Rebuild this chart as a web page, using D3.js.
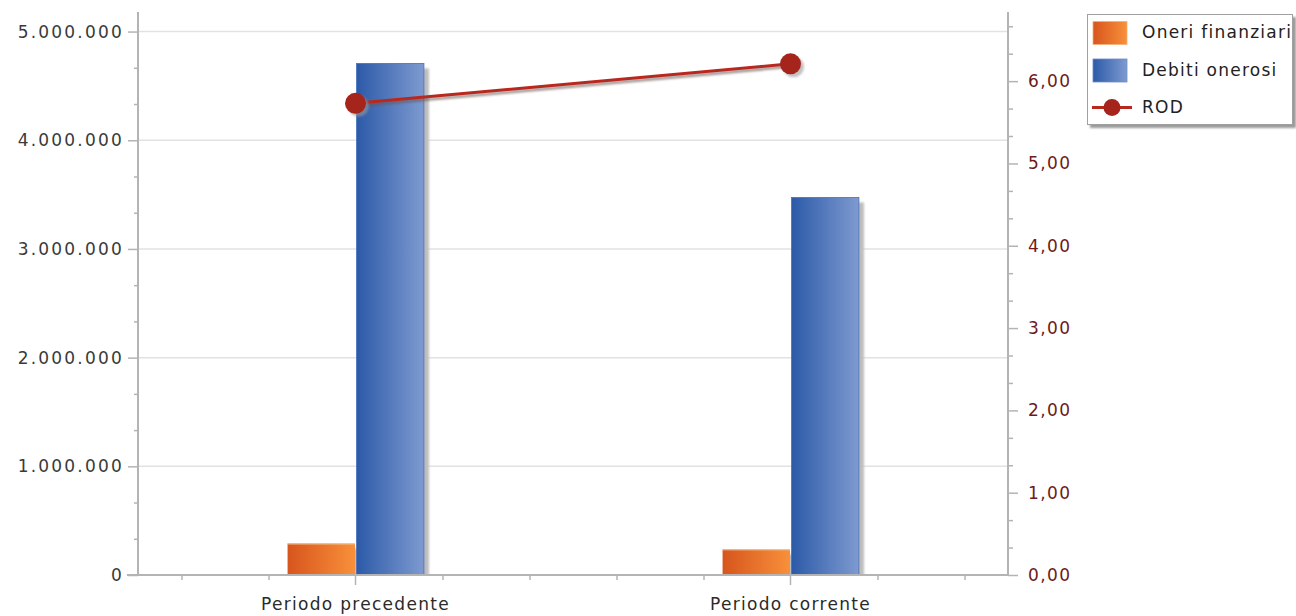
<!DOCTYPE html>
<html>
<head>
<meta charset="utf-8">
<script src="https://cdn.jsdelivr.net/npm/d3@7"></script>
<style>
  body { margin: 0; background: #fff; }
  svg { display: block; }
  text { font-family: "DejaVu Sans", Verdana, sans-serif; }
</style>
</head>
<body>
<svg id="chart" width="1296" height="616"></svg>
<script>
// Chart data
const categories = ["Periodo precedente", "Periodo corrente"];
const oneriFinanziari = [290000, 236000];
const debitiOnerosi = [4707000, 3474000];
const rod = [5.73, 6.21];
const seriesNames = ["Oneri finanziari", "Debiti onerosi", "ROD"];
const leftTicks = [0, 1000000, 2000000, 3000000, 4000000, 5000000];
const rightTicks = [0, 1, 2, 3, 4, 5, 6];
const leftMax = 5180000;
const rightMax = 6.84;

const plot = { left: 138, right: 1008, top: 12, bottom: 575 };
const svg = d3.select("#chart");

const it = d3.formatLocale({ decimal: ",", thousands: ".", grouping: [3], currency: ["", " €"] });
const fmtLeft = it.format(",.0f");
const fmtRight = it.format(",.2f");

const x = d3.scaleBand().domain(categories).range([plot.left, plot.right]);
const yL = d3.scaleLinear().domain([0, leftMax]).range([plot.bottom, plot.top]);
const yR = d3.scaleLinear().domain([0, rightMax]).range([plot.bottom, plot.top]);
const barW = x.bandwidth() * 0.155;
const cx = c => x(c) + x.bandwidth() / 2;

// Definitions: gradients and shadow filters
const defs = svg.append("defs");
function hGrad(id, c0, c1) {
  const g = defs.append("linearGradient").attr("id", id).attr("x1", "0").attr("x2", "1").attr("y1", "0").attr("y2", "0");
  g.append("stop").attr("offset", "0").attr("stop-color", c0);
  g.append("stop").attr("offset", "1").attr("stop-color", c1);
}
hGrad("gOrange", "#d7551d", "#f8903a");
hGrad("gBlue", "#2c5aa8", "#7e9ad0");
defs.append("filter").attr("id", "soft").attr("x", "-20%").attr("y", "-20%").attr("width", "140%").attr("height", "140%")
  .append("feGaussianBlur").attr("stdDeviation", 1);
defs.append("clipPath").attr("id", "plotClip").append("rect")
  .attr("x", plot.left).attr("y", 0).attr("width", plot.right - plot.left).attr("height", plot.bottom);

// Horizontal gridlines at the left-axis major ticks
svg.append("g").selectAll("line").data(leftTicks.filter(d => d > 0)).join("line")
  .attr("x1", plot.left).attr("x2", plot.right)
  .attr("y1", d => yL(d)).attr("y2", d => yL(d))
  .attr("stroke", "#e2e2e2").attr("stroke-width", 1.5);

// Bars
const bars = svg.append("g").attr("clip-path", "url(#plotClip)");
const barData = categories.map((c, i) => ({ c, oneri: oneriFinanziari[i], debiti: debitiOnerosi[i] }));

// bar shadows
bars.selectAll("rect.shadowO").data(barData).join("rect").attr("class", "shadowO")
  .attr("x", d => cx(d.c) - barW - 0.5 + 5).attr("y", d => yL(d.oneri) + 5)
  .attr("width", barW).attr("height", d => plot.bottom - yL(d.oneri))
  .attr("fill", "#bdbdbd").attr("filter", "url(#soft)");
bars.selectAll("rect.shadowD").data(barData).join("rect").attr("class", "shadowD")
  .attr("x", d => cx(d.c) + 1 + 5).attr("y", d => yL(d.debiti) + 5)
  .attr("width", barW).attr("height", d => plot.bottom - yL(d.debiti))
  .attr("fill", "#bdbdbd").attr("filter", "url(#soft)");

bars.selectAll("rect.oneri").data(barData).join("rect").attr("class", "oneri")
  .attr("x", d => cx(d.c) - barW - 0.5).attr("y", d => yL(d.oneri))
  .attr("width", barW).attr("height", d => plot.bottom - yL(d.oneri))
  .attr("fill", "url(#gOrange)");
bars.selectAll("line.oneriTop").data(barData).join("line").attr("class", "oneriTop")
  .attr("x1", d => cx(d.c) - barW - 0.5).attr("x2", d => cx(d.c) - 0.5)
  .attr("y1", d => yL(d.oneri) + 0.5).attr("y2", d => yL(d.oneri) + 0.5)
  .attr("stroke", "#f3c48f").attr("stroke-width", 1);
bars.selectAll("rect.debiti").data(barData).join("rect").attr("class", "debiti")
  .attr("x", d => cx(d.c) + 1).attr("y", d => yL(d.debiti))
  .attr("width", barW).attr("height", d => plot.bottom - yL(d.debiti))
  .attr("fill", "url(#gBlue)").attr("stroke", "#4a70b6").attr("stroke-width", 0.8);

// Axis lines
const axisCol = "#b4b4b4";
svg.append("line").attr("x1", plot.left).attr("x2", plot.left).attr("y1", plot.top).attr("y2", plot.bottom)
  .attr("stroke", axisCol).attr("stroke-width", 2);
svg.append("line").attr("x1", plot.right).attr("x2", plot.right).attr("y1", plot.top).attr("y2", plot.bottom)
  .attr("stroke", axisCol).attr("stroke-width", 2);
svg.append("line").attr("x1", plot.left - 11).attr("x2", plot.right).attr("y1", plot.bottom).attr("y2", plot.bottom)
  .attr("stroke", axisCol).attr("stroke-width", 2);

// Left axis: major and minor ticks
const leftMinor = d3.range(0, leftMax, 1000000 / 3).filter((d, i) => i % 3 !== 0);
const gLeftMinor = svg.append("g").attr("transform", `translate(${plot.left},0)`)
  .call(d3.axisLeft(yL).tickValues(leftMinor).tickSize(4).tickFormat(""));
const gLeft = svg.append("g").attr("transform", `translate(${plot.left},0)`)
  .call(d3.axisLeft(yL).tickValues(leftTicks).tickSize(10).tickPadding(4).tickFormat(fmtLeft));

// Right axis: major and minor ticks
const rightMinor = d3.range(0, rightMax, 1 / 3).filter((d, i) => i % 3 !== 0);
const gRightMinor = svg.append("g").attr("transform", `translate(${plot.right},0)`)
  .call(d3.axisRight(yR).tickValues(rightMinor).tickSize(5).tickFormat(""));
const gRight = svg.append("g").attr("transform", `translate(${plot.right},0)`)
  .call(d3.axisRight(yR).tickValues(rightTicks).tickSize(10).tickPadding(10).tickFormat(fmtRight));

// Bottom axis: centred category ticks with minor ticks across each band
const xMinor = [];
categories.forEach(c => {
  for (let k = 0; k < 5; k++) if (k !== 2) xMinor.push(x(c) + (k + 0.5) * x.bandwidth() / 5);
});
const xMinorScale = d3.scaleLinear().domain([0, 1296]).range([0, 1296]);
const gBottomMinor = svg.append("g").attr("transform", `translate(0,${plot.bottom})`)
  .call(d3.axisBottom(xMinorScale).tickValues(xMinor).tickSize(5).tickFormat(""));
const gBottom = svg.append("g").attr("transform", `translate(0,${plot.bottom})`)
  .call(d3.axisBottom(x).tickSize(10).tickPadding(13));

[gLeftMinor, gLeft, gRightMinor, gRight, gBottomMinor, gBottom].forEach(g => {
  g.select(".domain").remove();
  g.selectAll(".tick line").attr("stroke", axisCol).attr("stroke-width", 1.5);
});
gLeft.selectAll(".tick text").attr("font-size", 17).attr("letter-spacing", 2.2).attr("fill", "#3a3a3a");
gRight.selectAll(".tick text").attr("font-size", 17).attr("letter-spacing", 1.4).attr("fill", "#6e1a1a");
gBottom.selectAll(".tick text").attr("font-size", 17).attr("letter-spacing", 1.3).attr("fill", "#2a2a2a");

// ROD line with shadow and markers
const lineData = categories.map((c, i) => ({ c, v: rod[i] }));
const line = d3.line().x(d => cx(d.c)).y(d => yR(d.v));
svg.append("path").datum(lineData).attr("d", line).attr("transform", "translate(1.5,2.5)")
  .attr("fill", "none").attr("stroke", "#6a5450").attr("stroke-width", 3).attr("opacity", 0.6).attr("filter", "url(#soft)");
svg.append("path").datum(lineData).attr("d", line)
  .attr("fill", "none").attr("stroke", "#b8281f").attr("stroke-width", 3);
svg.selectAll("circle.shadow").data(lineData).join("circle").attr("class", "shadow")
  .attr("cx", d => cx(d.c) + 3).attr("cy", d => yR(d.v) + 3).attr("r", 10.5)
  .attr("fill", "#999").attr("opacity", 0.6).attr("filter", "url(#soft)");
svg.selectAll("circle.pt").data(lineData).join("circle").attr("class", "pt")
  .attr("cx", d => cx(d.c)).attr("cy", d => yR(d.v)).attr("r", 10.5)
  .attr("fill", "#a5241c");

// Legend
const lg = svg.append("g").attr("transform", "translate(1087,14)");
lg.append("rect").attr("x", 3).attr("y", 3).attr("width", 206).attr("height", 111).attr("fill", "#9a9a9a").attr("filter", "url(#soft)");
lg.append("rect").attr("x", 0.5).attr("y", 0.5).attr("width", 205).attr("height", 110).attr("fill", "#fff").attr("stroke", "#a0a0a0");
const rowY = i => 18.5 + i * 37.5;
const items = lg.selectAll("g.item").data(seriesNames).join("g").attr("class", "item")
  .attr("transform", (d, i) => `translate(0,${rowY(i)})`);
items.filter((d, i) => i < 2).append("rect")
  .attr("x", 6).attr("y", -11).attr("width", 34).attr("height", 23)
  .attr("fill", (d, i) => i === 0 ? "url(#gOrange)" : "url(#gBlue)")
  .attr("stroke", (d, i) => i === 0 ? "#f2b27a" : "#6d8cc6").attr("stroke-width", 0.8);
const rodItem = items.filter((d, i) => i === 2);
rodItem.append("line").attr("x1", 5).attr("x2", 45).attr("y1", 0).attr("y2", 0)
  .attr("stroke", "#b8281f").attr("stroke-width", 3);
rodItem.append("circle").attr("cx", 25).attr("cy", 0).attr("r", 8.5).attr("fill", "#a5241c");
items.append("text").attr("x", 55).attr("y", 0).attr("dy", "0.35em")
  .attr("font-size", 17).attr("letter-spacing", 1.25).attr("fill", "#222").text(d => d);
</script>
</body>
</html>
